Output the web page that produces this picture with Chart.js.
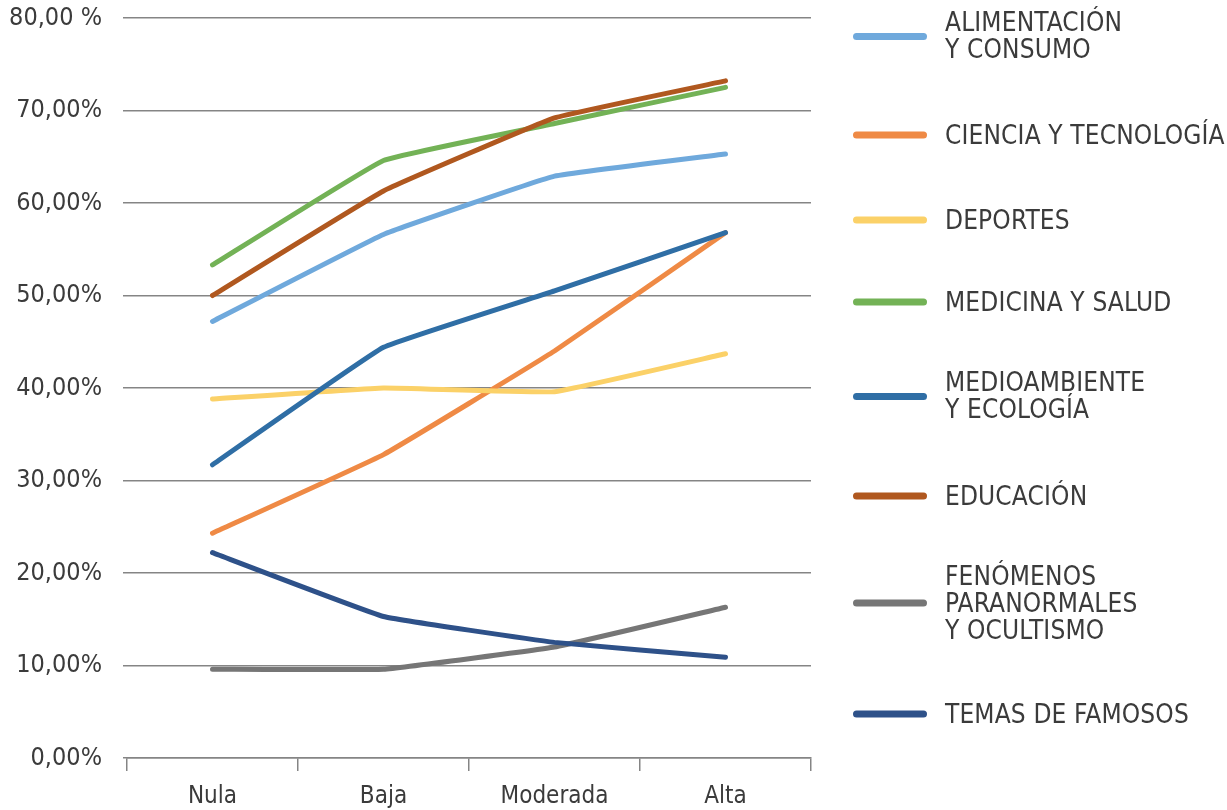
<!DOCTYPE html>
<html lang="es">
<head>
<meta charset="utf-8">
<title>Interés por temas según nivel</title>
<script src="https://cdn.jsdelivr.net/npm/chart.js@4.4.1/dist/chart.umd.min.js"></script>
<style>
  html, body { margin: 0; padding: 0; background: #ffffff; }
  #wrap { position: relative; width: 1227px; height: 810px; overflow: hidden; }
  #chart { position: absolute; left: 0; top: 0; }
  .legend-item { position: absolute; left: 853px; display: flex; align-items: center; transform: translateY(-50%); }
  .legend-swatch { width: 74px; height: 7px; border-radius: 4px; flex: none; }
  .legend-text {
    margin-left: 18px;
    font-family: 'Liberation Sans Narrow', 'DejaVu Sans Condensed', 'Roboto', sans-serif;
    font-size: 26px; line-height: 27px; color: #3b3b3b; white-space: pre; letter-spacing: 0.15px;
  }
</style>
</head>
<body>
<div id="wrap">
  <canvas id="chart" width="1227" height="810"></canvas>
  <div id="legend"></div>
</div>
<script>
// Categories (nivel) and values per topic, in percent
const categories = ['Nula', 'Baja', 'Moderada', 'Alta'];
const alimentacion = [47.2, 56.6, 62.9, 65.3];
const ciencia = [24.3, 32.8, 44.0, 56.8];
const deportes = [38.8, 40.0, 39.6, 43.7];
const medicina = [53.3, 64.6, 68.6, 72.5];
const medioambiente = [31.7, 44.4, 50.5, 56.8];
const educacion = [50.0, 61.3, 69.2, 73.2];
const fenomenos = [9.6, 9.6, 12.0, 16.3];
const famosos = [22.2, 15.3, 12.5, 10.9];

const seriesNames = [
  'ALIMENTACIÓN\nY CONSUMO',
  'CIENCIA Y TECNOLOGÍA',
  'DEPORTES',
  'MEDICINA Y SALUD',
  'MEDIOAMBIENTE\nY ECOLOGÍA',
  'EDUCACIÓN',
  'FENÓMENOS\nPARANORMALES\nY OCULTISMO',
  'TEMAS DE FAMOSOS'
];
const seriesValues = [alimentacion, ciencia, deportes, medicina, medioambiente, educacion, fenomenos, famosos];
const yTickLabels = ['0,00%', '10,00%', '20,00%', '30,00%', '40,00%', '50,00%', '60,00%', '70,00%', '80,00 %'];

// Styling
const seriesColors = ['#6fa9dc', '#ef8a45', '#fbd168', '#73b256', '#2f6ea5', '#b0581f', '#767676', '#2e5189'];
const legendCenters = [36, 135, 220, 302, 396, 496, 603, 714];
const FONT = "'Liberation Sans Narrow', 'DejaVu Sans Condensed', 'Roboto', sans-serif";

const datasets = seriesNames.map((name, i) => ({
  label: name.replace(/\n/g, ' '),
  data: seriesValues[i],
  borderColor: seriesColors[i],
  backgroundColor: seriesColors[i],
  borderWidth: 5,
  borderCapStyle: 'round',
  borderJoinStyle: 'round',
  pointRadius: 0,
  pointHoverRadius: 0,
  tension: 0.08,
  fill: false,
  order: seriesNames.length - i
}));

new Chart(document.getElementById('chart'), {
  type: 'line',
  data: { labels: categories, datasets },
  options: {
    responsive: false,
    animation: false,
    devicePixelRatio: 1,
    layout: { padding: { top: 18, right: 416, left: 0, bottom: 0 } },
    plugins: { legend: { display: false }, tooltip: { enabled: false } },
    scales: {
      x: {
        type: 'category',
        offset: true,
        grid: {
          display: true,
          offset: true,
          drawOnChartArea: false,
          drawTicks: true,
          tickLength: 13,
          color: '#858585',
          lineWidth: 1.5
        },
        border: { display: true, color: '#858585', width: 1.5 },
        ticks: {
          color: '#3b3b3b',
          font: { family: FONT, size: 24 },
          padding: 11,
          maxRotation: 0
        },
        afterFit: (axis) => { axis.height = 52; axis.paddingLeft = 0; axis.paddingRight = 0; }
      },
      y: {
        min: 0,
        max: 80,
        grid: {
          color: '#858585',
          lineWidth: 1.5,
          drawTicks: true,
          tickLength: 4
        },
        border: { display: false },
        ticks: {
          stepSize: 10,
          color: '#3b3b3b',
          font: { family: FONT, size: 25 },
          padding: 21,
          callback: (v) => yTickLabels[Math.round(v / 10)]
        },
        afterFit: (axis) => { axis.width = 127; axis.paddingTop = 0; axis.paddingBottom = 0; }
      }
    }
  }
});

// Legend on the right
const legend = document.getElementById('legend');
seriesNames.forEach((name, i) => {
  const item = document.createElement('div');
  item.className = 'legend-item';
  item.style.top = legendCenters[i] + 'px';
  const sw = document.createElement('div');
  sw.className = 'legend-swatch';
  sw.style.background = seriesColors[i];
  const tx = document.createElement('div');
  tx.className = 'legend-text';
  tx.textContent = name;
  item.appendChild(sw);
  item.appendChild(tx);
  legend.appendChild(item);
});
</script>
</body>
</html>
